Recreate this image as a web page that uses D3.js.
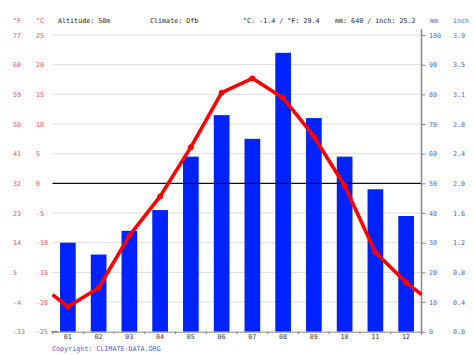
<!DOCTYPE html>
<html><head><meta charset="utf-8">
<script src="https://cdn.jsdelivr.net/npm/d3@7/dist/d3.min.js"></script>
<style>body{margin:0;background:#fff}svg{display:block}text{font-family:"DejaVu Sans Mono",monospace;font-size:6.7px}</style>
</head><body><svg id="c" width="474" height="355"></svg>
<script>
const months = ["01","02","03","04","05","06","07","08","09","10","11","12"];
const precipMm = [30,26,34,41,59,73,65,94,72,59,48,39];
const tempC = [-20.8,-17.6,-8.8,-2.2,6.1,15.3,17.7,14.4,7.9,-0.4,-11.6,-16.7];
const cTicks = [25,20,15,10,5,0,-5,-10,-15,-20,-25];
const fTicks = [77,68,59,50,41,32,23,14,5,-4,-13];
const mmTicks = [100,90,80,70,60,50,40,30,20,10,0];
const inchTicks = ["3.9","3.5","3.1","2.8","2.4","2.0","1.6","1.2","0.8","0.4","0.0"];

const svg = d3.select("#c");
const L = 52.5, R = 421.5, T = 35, B = 331.7;
const x = d3.scaleBand().domain(months).range([L, R]).paddingInner(0.49).paddingOuter(0.245);
const xc = d3.scaleBand().domain(months).range([L, R]);
const yT = d3.scaleLinear().domain([-25, 25]).range([B, T]);
const yP = d3.scaleLinear().domain([0, 100]).range([B, T]);
const red = "#e5545c", blue = "#4a5ed8";

// grid
svg.append("g").selectAll("line").data(cTicks.filter(d => d !== 0 && d !== -25)).join("line")
  .attr("x1", L).attr("x2", R).attr("y1", d => yT(d)).attr("y2", d => yT(d))
  .attr("stroke", "#dcdcdc").attr("stroke-width", 1);

// bars
svg.append("g").selectAll("rect").data(precipMm).join("rect")
  .attr("x", (d, i) => x(months[i])).attr("width", x.bandwidth())
  .attr("y", d => yP(d)).attr("height", d => B - yP(d))
  .attr("fill", "#0022ff");

// zero line
svg.append("line").attr("x1", L).attr("x2", R).attr("y1", yT(0)).attr("y2", yT(0))
  .attr("stroke", "#111").attr("stroke-width", 1.2);

// bottom axis
const xAxis = d3.axisBottom(xc).tickSize(0).tickPadding(3);
const gx = svg.append("g").attr("transform", `translate(0,${B})`).call(xAxis);
gx.select(".domain").attr("stroke", "#888");
gx.selectAll("text").attr("fill", "#333").style("font-size", "6.7px").style("font-family", "DejaVu Sans Mono");
gx.selectAll(".bnd").data(d3.range(13)).join("line").attr("class", "bnd")
  .attr("x1", i => L + i * xc.step()).attr("x2", i => L + i * xc.step())
  .attr("y1", 0).attr("y2", 2.5).attr("stroke", "#888");

// right axis
const yRight = d3.axisRight(yP).tickValues(mmTicks).tickSize(4).tickFormat("");
const gr = svg.append("g").attr("transform", `translate(${R},0)`).call(yRight);
gr.select(".domain").remove();
gr.selectAll("line").attr("stroke", "#888");
svg.append("line").attr("x1", R).attr("x2", R).attr("y1", 29).attr("y2", B + 3).attr("stroke", "#888").attr("stroke-width", 1.5);
svg.append("g").selectAll("text").data(mmTicks).join("text")
  .attr("x", 429).attr("y", d => yP(d) + 2.5).attr("fill", blue).text(d => d);
svg.append("g").selectAll("text").data(inchTicks).join("text")
  .attr("x", 453).attr("y", (d, i) => yP(mmTicks[i]) + 2.5).attr("fill", blue).text(d => d);

// left labels
svg.append("g").selectAll("text").data(cTicks).join("text")
  .attr("x", 36).attr("y", d => yT(d) + 2.5).attr("fill", red).text(d => d);
svg.append("g").selectAll("text").data(fTicks).join("text")
  .attr("x", 13).attr("y", (d, i) => yT(cTicks[i]) + 2.5).attr("fill", red).text(d => d);
svg.append("line").attr("x1", L - 1).attr("x2", L + 5).attr("y1", B).attr("y2", B).attr("stroke", "#666");

// temperature line with wrap-around to edges
const edge = (tempC[0] + tempC[11]) / 2;
const pts = [[L, yT(edge)]].concat(tempC.map((t, i) => [xc(months[i]) + xc.bandwidth() / 2, yT(t)])).concat([[R, yT(edge)]]);
svg.append("path").attr("d", d3.line()(pts)).attr("fill", "none")
  .attr("stroke", "#ff0000").attr("stroke-width", 3.6).attr("stroke-linejoin", "round");
svg.append("g").selectAll("circle").data(tempC).join("circle")
  .attr("cx", (d, i) => xc(months[i]) + xc.bandwidth() / 2).attr("cy", d => yT(d)).attr("r", 2.9).attr("fill", "#ff0000");

// header
const hy = 22.5;
svg.append("text").attr("x", 13).attr("y", hy).attr("fill", red).text("°F");
svg.append("text").attr("x", 36).attr("y", hy).attr("fill", red).text("°C");
svg.append("text").attr("x", 58).attr("y", hy).attr("fill", "#222").text("Altitude: 50m");
svg.append("text").attr("x", 150).attr("y", hy).attr("fill", "#222").text("Climate: Dfb");
svg.append("text").attr("x", 243).attr("y", hy).attr("fill", "#222").text("°C: -1.4 / °F: 29.4");
svg.append("text").attr("x", 335).attr("y", hy).attr("fill", "#222").text("mm: 640 / inch: 25.2");
svg.append("text").attr("x", 430).attr("y", hy).attr("fill", blue).text("mm");
svg.append("text").attr("x", 453).attr("y", hy).attr("fill", blue).text("inch");

// copyright
svg.append("text").attr("x", 52).attr("y", 350.5).attr("fill", blue).text("Copyright: CLIMATE-DATA.ORG");
</script></body></html>
